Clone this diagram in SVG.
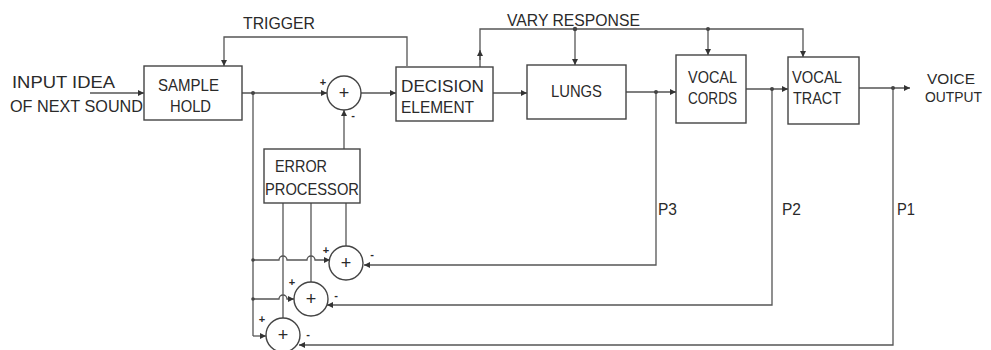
<svg xmlns="http://www.w3.org/2000/svg" width="991" height="350" viewBox="0 0 991 350">
<defs>
<marker id="ah" viewBox="0 0 10 10" refX="10" refY="5" markerWidth="8" markerHeight="6" markerUnits="userSpaceOnUse" orient="auto">
<path d="M0,0 L10,5 L0,10 z" fill="#333"/>
</marker>
<style>
.box{fill:#fff;stroke:#444;stroke-width:1.4}
.ln{fill:none;stroke:#555;stroke-width:1.3}
.t{font-family:"Liberation Sans","DejaVu Sans",sans-serif;font-size:17px;fill:#2a2a2a}
.o{font-size:15px}
.s{font-family:"Liberation Sans","DejaVu Sans",sans-serif;font-size:11px;fill:#2a2a2a;font-weight:bold}
.p{font-family:"Liberation Sans","DejaVu Sans",sans-serif;font-size:18px;fill:#2a2a2a}
.dot{fill:#444}
</style>
</defs>
<rect width="991" height="350" fill="#fff"/>

<g id="connectors">
<path class="ln" d="M90,93 H144" marker-end="url(#ah)"/>
<path class="ln" d="M242,93 H327" marker-end="url(#ah)"/>
<path class="ln" d="M407,66 V37 H224 V66" marker-end="url(#ah)"/>
<path class="ln" d="M361,93 H396" marker-end="url(#ah)"/>
<path class="ln" d="M344,149 V110" marker-end="url(#ah)"/>
<path class="ln" d="M493,93 H527" marker-end="url(#ah)"/>
<path class="ln" d="M480,67 V29 H803 V57" marker-end="url(#ah)"/>
<path class="ln" d="M480,60 V50" marker-end="url(#ah)"/>
<path class="ln" d="M575,29 V65" marker-end="url(#ah)"/>
<path class="ln" d="M708,29 V55" marker-end="url(#ah)"/>
<path class="ln" d="M626,92 H676" marker-end="url(#ah)"/>
<path class="ln" d="M656,92 V265 H364" marker-end="url(#ah)"/>
<path class="ln" d="M746,89 H788" marker-end="url(#ah)"/>
<path class="ln" d="M772,89 V305 H327" marker-end="url(#ah)"/>
<path class="ln" d="M859,88 H910" marker-end="url(#ah)"/>
<path class="ln" d="M893,88 V345 H299" marker-end="url(#ah)"/>
<path class="ln" d="M253,93 V336"/>
<path class="ln" d="M253,260 H279 A4,4 0 0 1 287,260 H307 A4,4 0 0 1 315,260 H330" marker-end="url(#ah)"/>
<path class="ln" d="M253,299 H279 A4,4 0 0 1 287,299 H294" marker-end="url(#ah)"/>
<path class="ln" d="M253,336 H266" marker-end="url(#ah)"/>
<path class="ln" d="M283,203 V318"/>
<path class="ln" d="M311,203 V282"/>
<path class="ln" d="M346,203 V246"/>
<circle class="dot" cx="253" cy="93" r="2"/>
<circle class="dot" cx="575" cy="29" r="2.2"/>
<circle class="dot" cx="708" cy="29" r="2"/>
<circle class="dot" cx="656" cy="92" r="2"/>
<circle class="dot" cx="772" cy="89" r="2"/>
<circle class="dot" cx="893" cy="88" r="2"/>
<circle class="dot" cx="253" cy="260" r="1.8"/>
<circle class="dot" cx="253" cy="299" r="1.8"/>
</g>

<g id="labels">
<text class="t" x="12" y="88" textLength="103" lengthAdjust="spacingAndGlyphs">INPUT IDEA</text>
<text class="t" x="10" y="112" textLength="133" lengthAdjust="spacingAndGlyphs">OF NEXT SOUND</text>
<text class="t" x="243" y="29" textLength="72" lengthAdjust="spacingAndGlyphs">TRIGGER</text>
<text class="t" x="507" y="26" textLength="133" lengthAdjust="spacingAndGlyphs">VARY RESPONSE</text>
<text class="t o" x="927" y="84" textLength="48" lengthAdjust="spacingAndGlyphs">VOICE</text>
<text class="t o" x="925" y="102" textLength="57" lengthAdjust="spacingAndGlyphs">OUTPUT</text>
<text class="t" x="658" y="215" textLength="19" lengthAdjust="spacingAndGlyphs">P3</text>
<text class="t" x="782" y="215" textLength="19" lengthAdjust="spacingAndGlyphs">P2</text>
<text class="t" x="897" y="215" textLength="18" lengthAdjust="spacingAndGlyphs">P1</text>
</g>

<g id="sample-hold">
<rect class="box" x="144" y="66" width="98" height="54"/>
<text class="t" x="158" y="91" textLength="61" lengthAdjust="spacingAndGlyphs">SAMPLE</text>
<text class="t" x="170" y="112" textLength="41" lengthAdjust="spacingAndGlyphs">HOLD</text>
</g>

<g id="sum-main">
<circle class="box" cx="344" cy="93" r="17"/>
<text class="p" x="344" y="99" text-anchor="middle">+</text>
<text class="s" x="323" y="86" text-anchor="middle">+</text>
<text class="s" x="353" y="119" text-anchor="middle">-</text>
</g>

<g id="decision-element">
<rect class="box" x="396" y="67" width="97" height="54"/>
<text class="t" x="401" y="92" textLength="83" lengthAdjust="spacingAndGlyphs">DECISION</text>
<text class="t" x="401" y="113" textLength="73" lengthAdjust="spacingAndGlyphs">ELEMENT</text>
</g>

<g id="lungs">
<rect class="box" x="527" y="65" width="99" height="54"/>
<text class="t" x="551" y="97" textLength="51" lengthAdjust="spacingAndGlyphs">LUNGS</text>
</g>

<g id="vocal-cords">
<rect class="box" x="676" y="55" width="70" height="68"/>
<text class="t" x="688" y="83" textLength="49" lengthAdjust="spacingAndGlyphs">VOCAL</text>
<text class="t" x="688" y="104" textLength="49" lengthAdjust="spacingAndGlyphs">CORDS</text>
</g>

<g id="vocal-tract">
<rect class="box" x="788" y="57" width="71" height="67"/>
<text class="t" x="792" y="83" textLength="50" lengthAdjust="spacingAndGlyphs">VOCAL</text>
<text class="t" x="793" y="104" textLength="48" lengthAdjust="spacingAndGlyphs">TRACT</text>
</g>

<g id="error-processor">
<rect class="box" x="264" y="149" width="96" height="54"/>
<text class="t" x="275" y="172" textLength="52" lengthAdjust="spacingAndGlyphs">ERROR</text>
<text class="t" x="265" y="195" textLength="94" lengthAdjust="spacingAndGlyphs">PROCESSOR</text>
</g>

<g id="sum-p3">
<circle class="box" cx="346" cy="263" r="17"/>
<text class="p" x="346" y="269" text-anchor="middle">+</text>
<text class="s" x="326" y="254" text-anchor="middle">+</text>
<text class="s" x="372" y="258" text-anchor="middle">-</text>
</g>

<g id="sum-p2">
<circle class="box" cx="311" cy="299" r="17"/>
<text class="p" x="311" y="305" text-anchor="middle">+</text>
<text class="s" x="292" y="286" text-anchor="middle">+</text>
<text class="s" x="336" y="299" text-anchor="middle">-</text>
</g>

<g id="sum-p1">
<circle class="box" cx="283" cy="335" r="17"/>
<text class="p" x="283" y="341" text-anchor="middle">+</text>
<text class="s" x="262" y="323" text-anchor="middle">+</text>
<text class="s" x="308" y="338" text-anchor="middle">-</text>
</g>
</svg>
